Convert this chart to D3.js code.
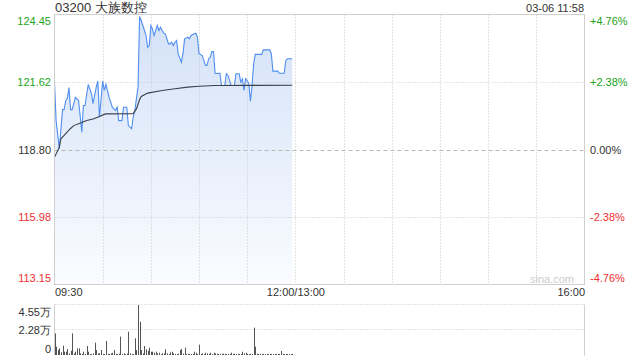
<!DOCTYPE html>
<html>
<head>
<meta charset="utf-8">
<script src="https://cdn.jsdelivr.net/npm/d3@7"></script>
<style>
body { margin: 0; background: #fff; }
svg { display: block; }
text { font-family: "Liberation Sans", Arial, sans-serif; }
</style>
</head>
<body>
<svg id="chart" width="640" height="360"></svg>
<script>
// header
var stockCode = "03200", stockName = "大族数控", stamp = "03-06 11:58";
var prevClose = 118.80;

// axes
var priceTicks = [124.45, 121.62, 118.80, 115.98, 113.15];
var pctTicks = ["+4.76%", "+2.38%", "0.00%", "-2.38%", "-4.76%"];
var timeTicks = [0, 150, 330];               // trading minutes since 09:30
var timeLabels = ["09:30", "12:00/13:00", "16:00"];
var volTicks = [45500, 22800, 0];
var volLabels = ["4.55万", "2.28万", "0"];

// price line (minute since open, price)
var priceMin = [0, 1, 3, 5, 6, 7, 8, 9, 10, 11, 13, 15, 17, 18, 19, 21, 23, 24, 26, 27, 28, 30, 31, 32, 34, 35, 36, 38, 39, 40,
  42, 43, 45, 46, 48, 49, 50, 52, 53, 54, 56, 57, 58, 59, 60, 61, 62, 64, 65, 66, 67, 68, 69, 71, 72, 73, 74, 75, 76, 77,
  79, 80, 81, 83, 84, 85, 87, 88, 89, 90, 92, 94, 95, 96, 97, 98, 99, 100, 103, 104, 106, 107, 108, 110, 112, 113, 115, 116, 117, 118,
  119, 120, 121, 122, 123, 124, 125, 129, 130, 134, 135, 136, 139, 140, 143, 144, 145, 148];
var priceVal = [121.62, 120.01, 118.83, 120.47, 120.47, 120.85, 120.93, 121.39, 120.47, 120.47, 120.98, 120.85, 119.52, 120.64, 120.64, 121.52, 121.14, 120.72, 121.41, 121.66, 120.15, 121.66, 121.27, 121.52, 120.98, 120.78, 120.57, 120.43, 120.57, 120.01,
  120.01, 120.57, 120.57, 119.80, 119.67, 120.15, 120.43, 121.41, 124.37, 124.20, 123.78, 123.57, 123.08, 123.15, 123.99, 123.85, 123.57, 123.99, 123.78, 123.92, 123.78, 123.67, 123.64, 123.22, 123.22, 123.29, 123.15, 123.29, 123.36, 122.81,
  122.45, 122.81, 123.43, 123.50, 123.43, 123.57, 123.64, 123.67, 123.50, 122.81, 122.73, 122.32, 122.32, 122.60, 122.66, 122.90, 122.90, 121.98, 121.99, 121.48, 121.48, 121.97, 121.90, 121.48, 121.48, 121.97, 121.97, 121.62, 121.76, 121.27,
  121.76, 121.69, 121.55, 120.82, 121.48, 122.39, 122.78, 122.78, 122.97, 122.97, 122.81, 122.08, 122.08, 121.99, 121.99, 122.52, 122.60, 122.60];

// average price line
var avgMin = [0, 3, 4, 6, 10, 12, 17, 20, 24, 28, 31, 32, 49, 51, 53, 54, 58, 67, 75, 83, 90, 100, 148];
var avgVal = [118.47, 118.90, 119.25, 119.39, 119.68, 119.80, 119.93, 120.01, 120.08, 120.18, 120.27, 120.29, 120.30, 120.50, 120.89, 121.02, 121.16, 121.27, 121.34, 121.41, 121.45, 121.48, 121.49];

// volume per minute from 09:30
var volume = [19700, 7600, 4500, 6100, 2500, 8500, 3000, 3000, 5500, 1500, 3900, 19700, 1500, 3000, 6000, 6000, 1500, 1000, 3000, 1000,
  8200, 3000, 1000, 800, 1500, 11200, 4500, 1500, 1500, 4500, 1000, 800, 12700, 1000, 800, 1500, 2000, 4500, 1000, 800,
  1200, 16700, 1000, 1500, 800, 1200, 21200, 1500, 800, 1000, 15200, 4500, 45500, 30300, 4500, 1500, 8200, 5200, 3900, 6700,
  3000, 3000, 2100, 3000, 1500, 2100, 800, 1500, 1500, 5200, 1500, 800, 2400, 3000, 1500, 900, 900, 1200, 4500, 5500,
  1200, 6700, 1000, 1000, 1000, 1000, 1000, 3000, 2100, 1000, 9400, 1000, 1500, 800, 2100, 1500, 1000, 2100, 1000, 2100,
  1500, 1000, 1000, 1000, 1000, 1200, 1000, 900, 1000, 1000, 2100, 1000, 1200, 1000, 1000, 900, 1000, 3000, 1500, 2100,
  1000, 900, 1000, 900, 24900, 7600, 1000, 900, 1000, 900, 1000, 900, 1000, 900, 1000, 900, 1000, 900, 1000, 1000,
  900, 3600, 1000, 900, 1000, 900, 1000, 900, 1000];

var green = "#22a322", red = "#f03030", dark = "#333";
var svg = d3.select("#chart");

var x = d3.scaleLinear().domain([0, 330]).range([54.5, 584.5]);
var y = d3.scaleLinear().domain([113.15, 124.45]).range([284.5, 14.5]);
var yv = d3.scaleLinear().domain([0, 45500]).range([355, 305]);
function px(v) { return Math.round(v) + 0.5; }
function tickColor(i) { return i < 2 ? green : (i == 2 ? dark : red); }

// gradient for the price area
var grad = svg.append("defs").append("linearGradient")
    .attr("id", "fill").attr("gradientUnits", "userSpaceOnUse")
    .attr("x1", 0).attr("y1", 14).attr("x2", 0).attr("y2", 284);
grad.append("stop").attr("offset", 0).attr("stop-color", "#d3e1f8");
grad.append("stop").attr("offset", 1).attr("stop-color", "#fafcff");

// price area under everything
var pts = priceMin.map(function (m, i) { return [m, priceVal[i]]; });
var avgPts = avgMin.map(function (m, i) { return [m, avgVal[i]]; });
svg.append("path").datum(pts)
    .attr("fill", "url(#fill)")
    .attr("d", d3.area().x(function (d) { return x(d[0]); }).y0(y(113.15)).y1(function (d) { return y(d[1]); }));

// grid, price panel
var grid = svg.append("g").attr("fill", "none");
d3.range(30, 330, 30).forEach(function (t) {
    grid.append("line").attr("x1", px(x(t))).attr("x2", px(x(t)))
        .attr("y1", 14.5).attr("y2", 284.5)
        .attr("stroke", "#c8c8c8").attr("stroke-dasharray", "1,2");
});
priceTicks.forEach(function (p) {
    if (p == 124.45 || p == 113.15) return;
    grid.append("line").attr("x1", 54.5).attr("x2", 584.5)
        .attr("y1", px(y(p))).attr("y2", px(y(p)))
        .attr("stroke", p == prevClose ? "#b8b8b8" : "#c8c8c8")
        .attr("stroke-dasharray", p == prevClose ? "4,3" : "1,2");
});

// price + average lines
svg.append("path").datum(pts)
    .attr("fill", "none").attr("stroke", "#4f8ef0").attr("stroke-width", 1.1)
    .attr("d", d3.line().x(function (d) { return x(d[0]); }).y(function (d) { return y(d[1]); }));
svg.append("path").datum(avgPts)
    .attr("fill", "none").attr("stroke", "#3a3f4a").attr("stroke-width", 1.1)
    .attr("d", d3.line().x(function (d) { return x(d[0]); }).y(function (d) { return y(d[1]); }));

// border
svg.append("rect").attr("x", 54.5).attr("y", 14.5).attr("width", 530).attr("height", 270)
    .attr("fill", "none").attr("stroke", "#d0d0d0");

// left price axis
var left = svg.append("g").attr("transform", "translate(51,0)")
    .call(d3.axisLeft(y).tickValues(priceTicks).tickSize(0).tickPadding(0).tickFormat(d3.format(".2f")));
left.select(".domain").remove();
left.selectAll("text").attr("font-size", 11).attr("font-family", "Liberation Sans, Arial, sans-serif")
    .attr("fill", function (d, i) { return tickColor(i); })
    .attr("dy", function (d, i) { return i == 0 ? "0.95em" : (i == 4 ? "-0.3em" : "0.32em"); });

// right percent axis
var right = svg.append("g").attr("transform", "translate(590,0)")
    .call(d3.axisRight(y).tickValues(priceTicks).tickSize(0).tickPadding(0)
        .tickFormat(function (d, i) { return pctTicks[i]; }));
right.select(".domain").remove();
right.selectAll("text").attr("font-size", 11).attr("font-family", "Liberation Sans, Arial, sans-serif")
    .attr("fill", function (d, i) { return tickColor(i); })
    .attr("dy", function (d, i) { return i == 0 ? "0.95em" : (i == 4 ? "-0.3em" : "0.32em"); });

// time axis
var bottom = svg.append("g").attr("transform", "translate(0,288)")
    .call(d3.axisBottom(x).tickValues(timeTicks).tickSize(0).tickPadding(0)
        .tickFormat(function (d, i) { return timeLabels[i]; }));
bottom.select(".domain").remove();
bottom.selectAll("text").attr("font-size", 11).attr("font-family", "Liberation Sans, Arial, sans-serif")
    .attr("fill", dark).attr("dy", "0.75em")
    .attr("text-anchor", function (d, i) { return i == 0 ? "start" : (i == 2 ? "end" : "middle"); });

// volume panel
var vg = svg.append("g");
volTicks.forEach(function (v) {
    if (v == 0) return;
    vg.append("line").attr("x1", 54.5).attr("x2", 584.5)
        .attr("y1", px(yv(v)) - 1).attr("y2", px(yv(v)) - 1)
        .attr("stroke", "#c8c8c8").attr("stroke-dasharray", "1,2");
});
vg.append("line").attr("x1", 54.5).attr("x2", 54.5).attr("y1", 304.5).attr("y2", 355.5).attr("stroke", "#d0d0d0");
vg.append("line").attr("x1", 584.5).attr("x2", 584.5).attr("y1", 304.5).attr("y2", 355.5).attr("stroke", "#d0d0d0");
vg.selectAll("rect.bar").data(volume).enter().append("rect")
    .attr("class", "bar")
    .attr("x", function (d, i) { return Math.round(x(i)); })
    .attr("width", 1)
    .attr("y", function (d) { return yv(d); })
    .attr("height", function (d) { return 355 - yv(d); })
    .attr("fill", "#555");

var vaxis = svg.append("g").attr("transform", "translate(51,0)")
    .call(d3.axisLeft(yv).tickValues(volTicks).tickSize(0).tickPadding(0)
        .tickFormat(function (d, i) { return volLabels[i]; }));
vaxis.select(".domain").remove();
vaxis.selectAll("text").attr("font-size", 11).attr("font-family", "Liberation Sans, Noto Sans CJK SC, sans-serif")
    .attr("fill", dark)
    .attr("dy", function (d, i) { return i == 0 ? "0.95em" : (i == 2 ? "-0.25em" : "0.32em"); });

// header texts
svg.append("text").attr("x", 55).attr("y", 12)
    .attr("font-size", 13).attr("fill", dark)
    .attr("font-family", "Liberation Sans, Noto Sans CJK SC, sans-serif")
    .text(stockCode + " " + stockName);
svg.append("text").attr("x", 584).attr("y", 11.5)
    .attr("font-size", 11).attr("fill", dark).attr("text-anchor", "end")
    .text(stamp);
svg.append("text").attr("x", 574).attr("y", 283)
    .attr("font-size", 11).attr("fill", "#ccc").attr("text-anchor", "end")
    .text("sina.com");
</script>
</body>
</html>
